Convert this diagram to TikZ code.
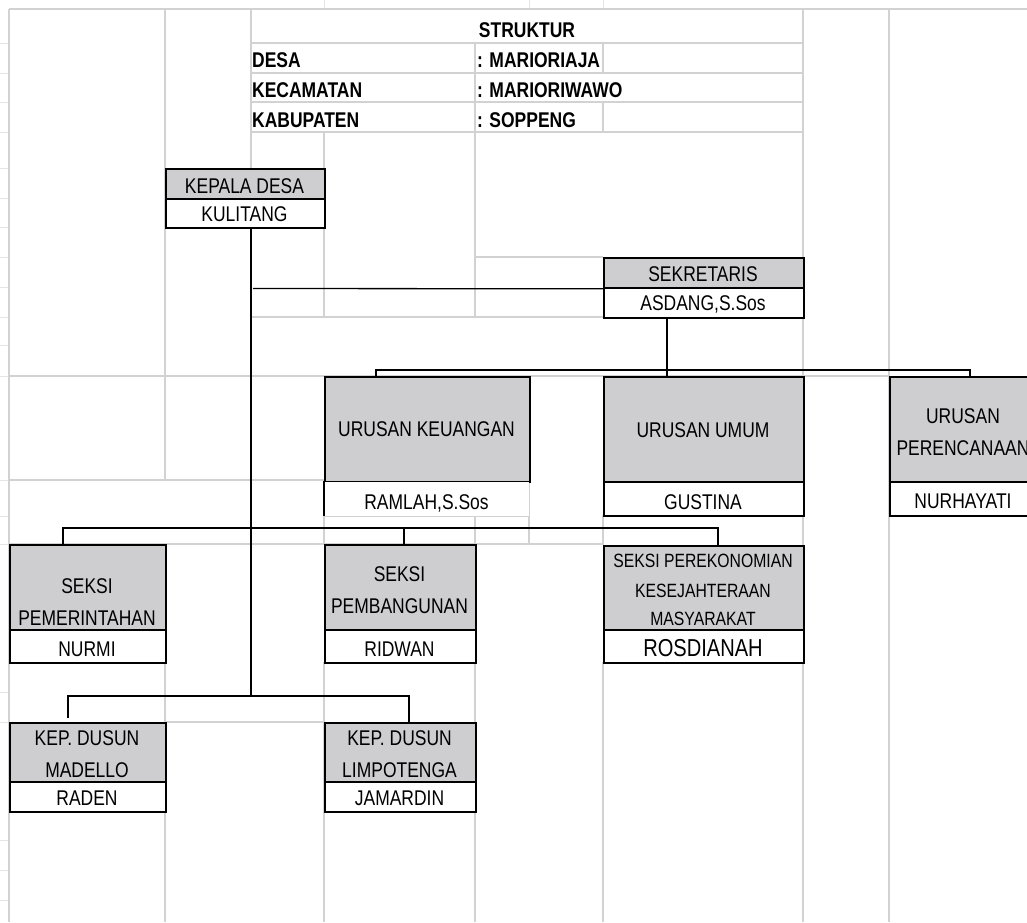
\documentclass[tikz,border=0pt]{standalone}
\usepackage{fontspec}
\setmainfont{Liberation Sans}[FakeStretch=0.82]
\definecolor{boxgray}{RGB}{206,205,207}
\definecolor{gridgray}{RGB}{210,210,210}
\definecolor{tickgray}{RGB}{228,228,228}
\begin{document}
\begin{tikzpicture}[x=1pt,y=-1pt,
  grid/.style={draw=gridgray, line width=1.1pt},
  tick/.style={draw=tickgray, line width=1pt},
  head/.style={draw=black, fill=boxgray, line width=1.8pt, inner sep=0pt, anchor=north west},
  namebox/.style={draw=black, fill=white, line width=1.8pt, inner sep=0pt, anchor=north west},
  lbl/.style={anchor=base, inner sep=0pt, font=\fontsize{21.3}{24}\selectfont},
  small/.style={anchor=base, inner sep=0pt, font=\fontsize{19.2}{22}\selectfont},
  big/.style={anchor=base, inner sep=0pt, font=\fontsize{24.5}{28}\selectfont},
  hdr/.style={anchor=base west, inner sep=0pt, font=\bfseries\fontsize{21.3}{24}\selectfont},
  conn/.style={draw=black, line width=1.3pt}]
\useasboundingbox (0,0) rectangle (1027,922);
\clip (0,0) rectangle (1027,922);
\fill[white] (0,0) rectangle (1027,922);

% spreadsheet grid
\foreach \yy in {43,73,102,132,168,198,227,257,287,317,345,376,480,516,544,692,722,840,870,900}
  \draw[tick] (0,\yy) -- (9,\yy);
\foreach \xx in {324,529,603}
  \draw[tick] (\xx,0) -- (\xx,9);
\draw[grid] (9,9) -- (9,922);
\draw[grid] (165,9) -- (165,480);
\draw[grid] (165,662) -- (165,922);
\draw[grid] (251,9) -- (251,317);
\draw[grid] (324,132) -- (324,317);
\draw[grid] (324,516) -- (324,544);
\draw[grid] (324,662) -- (324,922);
\draw[grid] (475,43) -- (475,317);
\draw[grid] (475,516) -- (475,922);
\draw[grid] (529,481) -- (529,545);
\draw[grid] (603,43) -- (603,73);
\draw[grid] (603,102) -- (603,132);
\draw[grid] (603,515) -- (603,545);
\draw[grid] (603,662) -- (603,922);
\draw[grid] (803,9) -- (803,922);
\draw[grid] (889,9) -- (889,922);
\draw[grid] (9,9) -- (1027,9);
\foreach \yy in {43,73,102,132}
  \draw[grid] (251,\yy) -- (803,\yy);
\draw[grid] (475,257) -- (603,257);
\draw[grid] (251,317) -- (603,317);
\draw[grid] (9,376) -- (889,376);
\draw[grid] (9,480) -- (324,480);
\draw[grid] (324,516) -- (529,516);
\draw[grid] (9,544) -- (603,544);
\draw[grid] (165,722) -- (324,722);

% header
\node[hdr, anchor=base] (hs) at (527,37) {STRUKTUR};
\node[hdr] (hd) at (252,67) {DESA};
\node[hdr] (hk) at (252,97) {KECAMATAN};
\node[hdr] (hb) at (252,127) {KABUPATEN};
\node[hdr] (vd) at (477,67) {: MARIORIAJA};
\node[hdr] (vk) at (477,97) {: MARIORIWAWO};
\node[hdr] (vb) at (477,127) {: SOPPENG};

% boxes
\node[head, minimum width=159pt, minimum height=30pt] (kd) at (165,168) {};
\node[namebox, minimum width=159pt, minimum height=29pt] (kdn) at (165,198) {};
\node[head, minimum width=200pt, minimum height=30pt] (sek) at (603,257) {};
\node[namebox, minimum width=200pt, minimum height=30pt] (sekn) at (603,287) {};
\node[head, minimum width=205pt, minimum height=105pt] (uk) at (324,376) {};
\node[fill=white, inner sep=0pt, anchor=north west, minimum width=204pt, minimum height=34pt] (ukn) at (325,482) {};
\draw[conn, line width=1.8pt] (324,481) -- (324,516);
\node[head, minimum width=200pt, minimum height=105pt] (uu) at (603,376) {};
\node[namebox, minimum width=200pt, minimum height=34pt] (uun) at (603,481) {};
\node[head, minimum width=150pt, minimum height=105pt] (up) at (889,376) {};
\node[namebox, minimum width=150pt, minimum height=34pt] (upn) at (889,481) {};
\node[head, minimum width=156pt, minimum height=85pt] (sp) at (9,544) {};
\node[namebox, minimum width=156pt, minimum height=33pt] (spn) at (9,629) {};
\node[head, minimum width=151pt, minimum height=85pt] (sb) at (324,544) {};
\node[namebox, minimum width=151pt, minimum height=33pt] (sbn) at (324,629) {};
\node[head, minimum width=200pt, minimum height=84pt] (se) at (603,545) {};
\node[namebox, minimum width=200pt, minimum height=33pt] (sen) at (603,629) {};
\node[head, minimum width=156pt, minimum height=59pt] (dm) at (9,722) {};
\node[namebox, minimum width=156pt, minimum height=30pt] (dmn) at (9,781) {};
\node[head, minimum width=151pt, minimum height=59pt] (dl) at (324,722) {};
\node[namebox, minimum width=151pt, minimum height=30pt] (dln) at (324,781) {};

% labels
\node[lbl] (t1) at (244.5,193) {KEPALA DESA};
\node[lbl] (t2) at (244.5,221) {KULITANG};
\node[lbl] (t3) at (703,281) {SEKRETARIS};
\node[lbl] (t4) at (703,310) {ASDANG,S.Sos};
\node[lbl] (t5) at (426.5,436) {URUSAN KEUANGAN};
\node[lbl] (t6) at (426.5,509) {RAMLAH,S.Sos};
\node[lbl] (t7) at (703,437) {URUSAN UMUM};
\node[lbl] (t8) at (703,509) {GUSTINA};
\node[lbl] (t9) at (963,423) {URUSAN};
\node[lbl] (t10) at (963,455) {PERENCANAAN};
\node[lbl] (t11) at (963,508) {NURHAYATI};
\node[lbl] (t12) at (87,593) {SEKSI};
\node[lbl] (t13) at (87,625) {PEMERINTAHAN};
\node[lbl] (t14) at (87,656) {NURMI};
\node[lbl] (t15) at (399.5,581) {SEKSI};
\node[lbl] (t16) at (399.5,613) {PEMBANGUNAN};
\node[lbl] (t17) at (399.5,656) {RIDWAN};
\node[small] (t18) at (703,567) {SEKSI PEREKONOMIAN};
\node[small] (t19) at (703,597) {KESEJAHTERAAN};
\node[small] (t20) at (703,625) {MASYARAKAT};
\node[big] (t21) at (703,656) {ROSDIANAH};
\node[lbl] (t22) at (87,745) {KEP. DUSUN};
\node[lbl] (t23) at (87,777) {MADELLO};
\node[lbl] (t24) at (87,805) {RADEN};
\node[lbl] (t25) at (399.5,745) {KEP. DUSUN};
\node[lbl] (t26) at (399.5,777) {LIMPOTENGA};
\node[lbl] (t27) at (399.5,805) {JAMARDIN};

% connectors
\coordinate (tb) at (251,696);
\draw[conn] (kdn.south -| tb) -- (tb);
\coordinate (sj) at (253,288.5);
\draw[conn] (sj) -- (sek.south west);
\coordinate (ub1) at (376,370);
\coordinate (ub2) at (667,370);
\coordinate (ub3) at (970,370);
\draw[conn] (ub1 |- uk.north) -- (ub1) -- (ub3) -- (ub3 |- up.north);
\draw[conn] (ub2 |- sekn.south) -- ([yshift=-2pt]ub2 |- uu.north);
\coordinate (sb1) at (63,528);
\coordinate (sb2) at (404,528);
\coordinate (sb3) at (718,528);
\draw[conn] (sb1 |- sp.north) -- (sb1) -- (sb3) -- (sb3 |- se.north);
\draw[conn] (sb2) -- (sb2 |- sb.north);
\coordinate (db1) at (68,696);
\coordinate (db2) at (409,696);
\draw[conn] ([yshift=4pt]db1 |- dm.north) -- (db1) -- (db2) -- (db2 |- dl.north);
\end{tikzpicture}
\end{document}
